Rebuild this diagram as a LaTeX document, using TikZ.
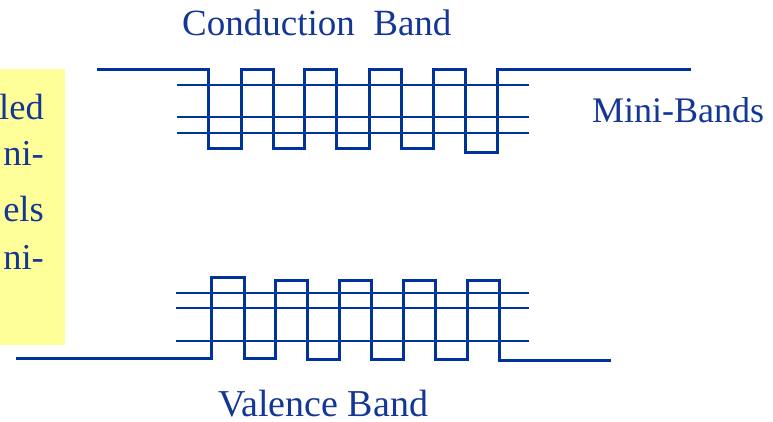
\documentclass[tikz,border=0pt]{standalone}
\usepackage{fontspec}
\setmainfont{Liberation Serif}
\definecolor{bandblue}{RGB}{0,51,153}
\definecolor{txtblue}{RGB}{20,55,150}
\definecolor{boxyellow}{RGB}{255,255,153}
\tikzset{
  bandline/.style={draw=bandblue, line width=3pt, line join=miter},
  lvl/.style={draw=bandblue, line width=2.8pt},
  lbl/.style={text=txtblue, font=\fontsize{36}{36}\selectfont, inner sep=0pt, anchor=base west},
  boxlbl/.style={text=txtblue, font=\fontsize{36.5}{36}\selectfont, inner sep=0pt, anchor=base east}
}
\begin{document}
\begin{tikzpicture}[x=1pt,y=-1pt]
\useasboundingbox (0,0) rectangle (773,421);
% yellow box
\fill[boxyellow] (0,69) rectangle (65,345);
\node[boxlbl] (t1) at (44,119) {led};
\node[boxlbl] (t2) at (44,165) {ni-};
\node[boxlbl] (t3) at (44,221) {els};
\node[boxlbl] (t4) at (44,269) {ni-};
% conduction band profile
\draw[bandline] (97,69) -- (208,69) -- (208,148) -- (241,148) -- (241,69) -- (273,69) -- (273,148) -- (304,148) -- (304,69) -- (336,69) -- (336,148) -- (369,148) -- (369,69) -- (401,69) -- (401,148) -- (433,148) -- (433,69) -- (465,69) -- (465,152) -- (497,152) -- (497,69) -- (691,69);
\foreach \yy in {85,117,133} \draw[lvl] (177,\yy) -- (529,\yy);
% valence band profile
\draw[bandline] (16,358) -- (211,358) -- (211,277) -- (244,277) -- (244,358) -- (275,358) -- (275,280) -- (307,280) -- (307,359) -- (339,359) -- (339,280) -- (371,280) -- (371,359) -- (403,359) -- (403,280) -- (435,280) -- (435,359) -- (467,359) -- (467,280) -- (499,280) -- (499,360) -- (611,360);
\foreach \yy in {293,308,341} \draw[lvl] (176,\yy) -- (529,\yy);
% labels
\node[lbl, font=\fontsize{37}{37}\selectfont] (cb) at (182,35) {Conduction\ \ Band};
\node[lbl] (mb) at (592,122) {Mini-Bands};
\node[lbl, font=\fontsize{38}{38}\selectfont] (vb) at (218,416) {Valence Band};
\end{tikzpicture}
\end{document}
